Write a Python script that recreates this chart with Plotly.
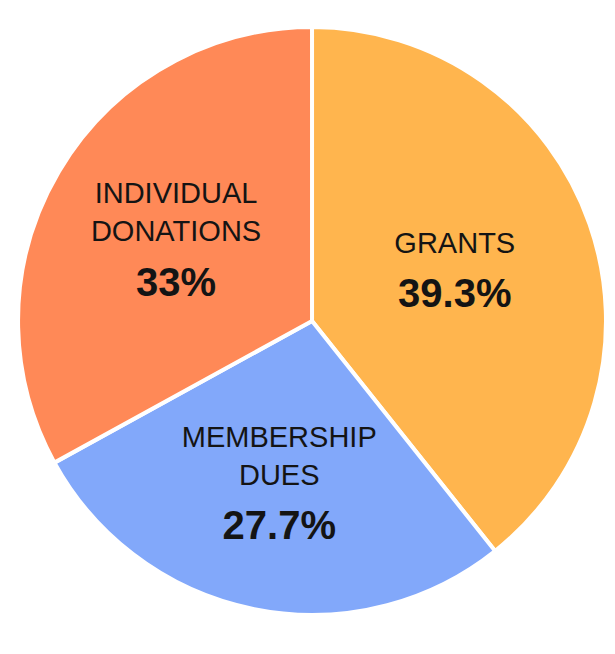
import plotly.graph_objects as go

labels = ["GRANTS", "MEMBERSHIP<br>DUES", "INDIVIDUAL<br>DONATIONS"]
values = [39.3, 27.7, 33]
pct_text = ["39.3%", "27.7%", "33%"]
colors = ["#FFB54E", "#82A8FA", "#FF8957"]

fig = go.Figure(go.Pie(
    labels=labels,
    values=values,
    customdata=pct_text,
    sort=False,
    direction="clockwise",
    rotation=0,
    marker=dict(colors=colors, line=dict(color="white", width=4)),
    texttemplate=("%{label}<br><b><span style='font-size:80px'><sub>"
                  "<span style='font-size:40px'>%{customdata}</span></sub></span></b>"),
    textposition="inside",
    insidetextorientation="horizontal",
    textfont=dict(family="Liberation Sans, Arial, sans-serif", size=29, color="#141414"),
    hoverinfo="label+percent",
    showlegend=False,
    domain=dict(x=[0.0163, 0.9724], y=[0.0719, 0.9709]),
))

fig.update_layout(
    width=615, height=654,
    margin=dict(l=0, r=0, t=0, b=0),
    paper_bgcolor="white",
    plot_bgcolor="white",
)

fig.write_html("out.html")
